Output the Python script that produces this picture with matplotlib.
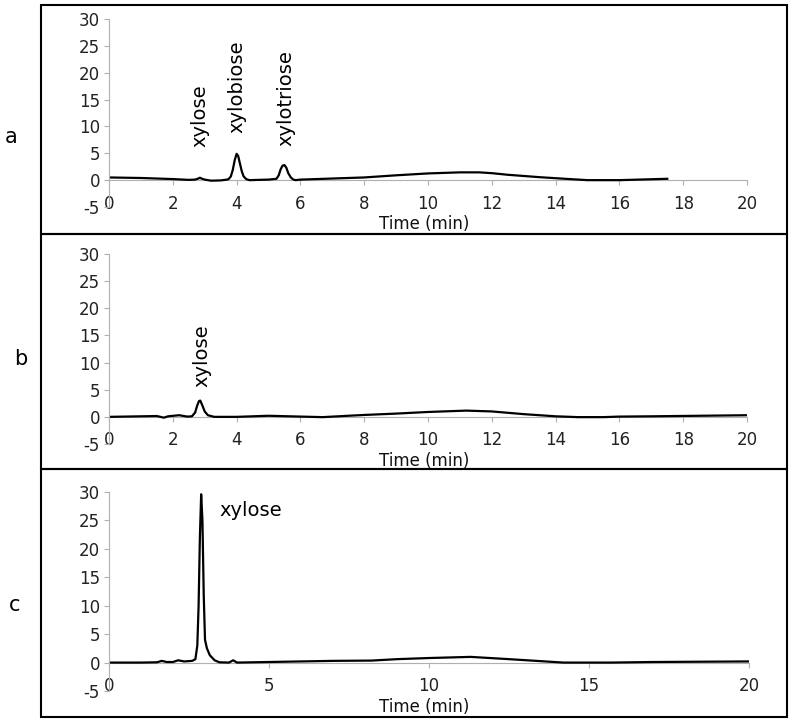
import matplotlib
matplotlib.use('Agg')
import matplotlib.pyplot as plt
from matplotlib.patches import Rectangle

plt.rcParams['font.family'] = ['DejaVu Sans']
plt.rcParams['axes.unicode_minus'] = False

# chromatogram a (xylose, xylobiose, xylotriose)
time_a = [0, 1, 2, 2.5, 2.7, 2.8, 2.85, 2.9, 3.0, 3.2, 3.5, 3.7, 3.75, 3.82, 3.88, 3.94, 4.0, 4.05,
          4.1, 4.16, 4.22, 4.3, 4.4, 5.0, 5.25, 5.32, 5.38, 5.44, 5.5, 5.56, 5.62, 5.7, 5.78, 5.85,
          6.0, 7.0, 8.0, 8.5, 9.0, 10.0, 11.0, 11.6, 12.0, 12.5, 13.5, 14.3, 15.0, 16.0, 17.5]
signal_a = [0.5, 0.4, 0.2, 0.05, 0.1, 0.3, 0.45, 0.3, 0.1, -0.1, -0.05, 0.1, 0.2, 0.7, 1.9, 3.7, 4.9, 4.5,
            3.2, 1.7, 0.7, 0.2, 0.0, 0.1, 0.25, 0.9, 2.0, 2.7, 2.8, 2.3, 1.3, 0.5, 0.1, 0.0,
            0.1, 0.3, 0.5, 0.7, 0.9, 1.25, 1.45, 1.45, 1.3, 1.0, 0.55, 0.25, 0.0, 0.0, 0.25]

# chromatogram b (xylose)
time_b = [0, 1, 1.5, 1.72, 1.85, 2.2, 2.45, 2.6, 2.7, 2.76, 2.82, 2.86, 2.92, 3.0, 3.1, 3.3,
          4.0, 5.0, 6.0, 6.7, 7.5, 8.0, 9.0, 10.0, 11.2, 12.0, 13.0, 14.0, 14.7, 15.5, 16.0, 17.0, 20.0]
signal_b = [0.0, 0.1, 0.15, -0.15, 0.1, 0.3, 0.05, 0.1, 0.8, 2.0, 2.9, 3.0, 2.2, 1.0, 0.3, 0.0,
            0.0, 0.2, 0.05, -0.05, 0.2, 0.35, 0.6, 0.9, 1.15, 1.0, 0.5, 0.1, -0.05, -0.05, 0.05, 0.1, 0.3]

# chromatogram c (xylose standard)
time_c = [0, 1.0, 1.5, 1.65, 1.8, 2.0, 2.16, 2.35, 2.6, 2.7, 2.76, 2.8, 2.84, 2.88, 2.92, 2.96,
          3.0, 3.06, 3.15, 3.3, 3.45, 3.75, 3.88, 4.0, 4.5, 5.0, 6.0, 7.0, 8.2, 9.0, 10.0,
          11.3, 12.5, 14.2, 15.7, 17.0, 20.0]
signal_c = [0.0, 0.0, 0.05, 0.3, 0.1, 0.1, 0.4, 0.2, 0.3, 0.6, 3.0, 10.0, 22.0, 29.6, 25.0, 12.0,
            4.0, 2.5, 1.3, 0.4, 0.05, 0.0, 0.4, 0.0, 0.05, 0.1, 0.2, 0.3, 0.35, 0.6, 0.8,
            1.0, 0.6, 0.0, 0.0, 0.1, 0.2]

panel_labels = ['a', 'b', 'c']
xticks_list = [range(0, 21, 2), range(0, 21, 2), range(0, 21, 5)]

W, H = 795, 723


def fx(px):
    return px / W


def fy(py):
    return 1 - py / H


fig = plt.figure(figsize=(W / 100, H / 100), dpi=100)

# axes boxes in pixels: left, top(30), right(20), bottom(-5)
ax_pix = [(109, 19, 747, 207), (109, 254, 747, 444), (109, 492, 749, 691)]
frames = [(5, 234), (234, 469), (469, 717)]
label_pos = [(11, 137), (21, 359), (15, 605)]
xlabel_y = [224, 461, 707]

series = [(time_a, signal_a), (time_b, signal_b), (time_c, signal_c)]
axes = []
for i, (l, t, r, b) in enumerate(ax_pix):
    ax = fig.add_axes([fx(l), fy(b), fx(r) - fx(l), fy(t) - fy(b)])
    ax.plot(series[i][0], series[i][1], color='black', lw=1.6, solid_joinstyle='round')
    ax.set_xlim(0, 20)
    ax.set_ylim(-5, 30)
    ax.set_yticks(range(-5, 31, 5))
    ax.set_xticks(list(xticks_list[i]))
    ax.patch.set_alpha(0)
    for s in ['top', 'right']:
        ax.spines[s].set_visible(False)
    ax.spines['bottom'].set_position(('data', 0))
    ax.spines['bottom'].set_color('#b0b0b0')
    ax.spines['left'].set_color('#b0b0b0')
    ax.tick_params(axis='x', direction='out', length=3.5, color='#b0b0b0', pad=7,
                   labelsize=12, labelcolor='#222222')
    ax.tick_params(axis='y', direction='out', length=3.5, color='#b0b0b0', pad=3,
                   labelsize=12, labelcolor='#222222')
    ax.spines['bottom'].set_zorder(0)
    fig.text(fx(424), fy(xlabel_y[i]), 'Time (min)', ha='center', va='center',
             fontsize=12, color='#111111')
    fig.text(fx(label_pos[i][0]), fy(label_pos[i][1]), panel_labels[i], ha='center',
             va='center', fontsize=15)
    fig.patches.append(Rectangle((fx(41), fy(frames[i][1])), fx(787) - fx(41),
                                 fy(frames[i][0]) - fy(frames[i][1]), transform=fig.transFigure,
                                 fill=False, edgecolor='black', lw=1.5))
    axes.append(ax)

# peak labels
axes[0].text(2.85, 6.1, 'xylose', rotation=90, ha='center', va='bottom', fontsize=14)
axes[0].text(4.0, 8.7, 'xylobiose', rotation=90, ha='center', va='bottom', fontsize=14)
axes[0].text(5.55, 6.3, 'xylotriose', rotation=90, ha='center', va='bottom', fontsize=14)
axes[1].text(2.9, 5.5, 'xylose', rotation=90, ha='center', va='bottom', fontsize=14)
axes[2].text(3.45, 26.8, 'xylose', ha='left', va='center', fontsize=14)

plt.savefig('out.png', dpi=100)
